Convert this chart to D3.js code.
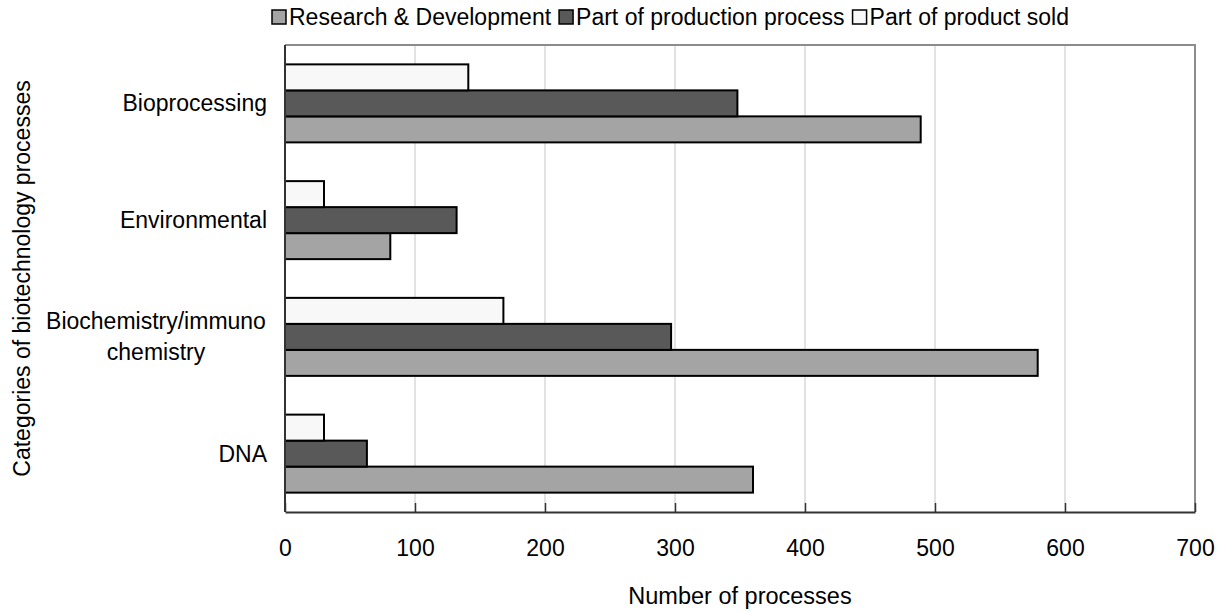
<!DOCTYPE html>
<html>
<head>
<meta charset="utf-8">
<script src="https://cdn.jsdelivr.net/npm/d3@7"></script>
<style>
  html, body { margin: 0; padding: 0; background: #fff; }
  svg { display: block; font-family: "Liberation Sans", Arial, sans-serif; }
</style>
</head>
<body>
<svg id="chart" width="1232" height="611"></svg>
<script>
const categories = ["Bioprocessing", "Environmental", "Biochemistry/immuno\nchemistry", "DNA"];
const seriesNames = ["Research & Development", "Part of production process", "Part of product sold"];
const researchDev = [489, 81, 579, 360];
const production = [348, 132, 297, 63];
const productSold = [141, 30, 168, 30];
const xTicks = [0, 100, 200, 300, 400, 500, 600, 700];
const colors = ["#a4a4a4", "#595959", "#f8f8f8"];
const seriesValues = [researchDev, production, productSold];

const svg = d3.select("#chart");
const plot = { left: 285, right: 1195, top: 45, bottom: 512 };

const x = d3.scaleLinear().domain([0, 700]).range([plot.left, plot.right]);
const y = d3.scaleBand().domain(categories).range([plot.top, plot.bottom]).padding(0);
// order of bars within a group, top to bottom: sold, production, R&D
const inner = d3.scaleBand().domain([2, 1, 0]).range([0, y.bandwidth()]).paddingInner(0).paddingOuter(0.745);

// gridlines
svg.append("g").selectAll("line").data(xTicks.filter(t => t > 0 && t < 700)).join("line")
  .attr("x1", d => x(d)).attr("x2", d => x(d))
  .attr("y1", plot.top).attr("y2", plot.bottom)
  .attr("stroke", "#d9d9d9").attr("stroke-width", 1.5);

// plot frame (top & right gray)
svg.append("path")
  .attr("d", `M${plot.left},${plot.top}H${plot.right}V${plot.bottom}`)
  .attr("fill", "none").attr("stroke", "#8c8c8c").attr("stroke-width", 2);

// bars
const rows = [];
categories.forEach((c, i) => {
  seriesValues.forEach((vals, s) => rows.push({ cat: c, s, v: vals[i] }));
});
svg.append("g").selectAll("rect").data(rows).join("rect")
  .attr("x", x(0))
  .attr("y", d => y(d.cat) + inner(d.s))
  .attr("width", d => x(d.v) - x(0))
  .attr("height", inner.bandwidth())
  .attr("fill", d => colors[d.s])
  .attr("stroke", "#000").attr("stroke-width", 2);

// x axis
const xAxis = d3.axisBottom(x).tickValues(xTicks).tickSize(-9).tickPadding(28).tickSizeOuter(0);
const gx = svg.append("g").attr("transform", `translate(0,${plot.bottom})`).call(xAxis);
gx.select(".domain").attr("stroke", "#333").attr("stroke-width", 2);
gx.selectAll(".tick line").attr("stroke", "#333").attr("stroke-width", 1.5);
gx.selectAll(".tick text").attr("font-size", 23).attr("fill", "#000")
  .attr("font-family", "Liberation Sans, Arial, sans-serif");

// y axis line
svg.append("line").attr("x1", plot.left).attr("x2", plot.left)
  .attr("y1", plot.top).attr("y2", plot.bottom)
  .attr("stroke", "#333").attr("stroke-width", 2);

// category labels
categories.forEach(c => {
  const lines = c.split("\n");
  const cy = y(c) + y.bandwidth() / 2;
  const lh = 31;
  const t = svg.append("text").attr("font-size", 23).attr("fill", "#000");
  if (lines.length === 1) {
    t.attr("x", 267).attr("y", cy).attr("text-anchor", "end").attr("dominant-baseline", "central").text(c);
  } else {
    const cx = 156;
    lines.forEach((ln, k) => {
      t.append("tspan").attr("x", cx).attr("text-anchor", "middle")
        .attr("y", cy + (k - (lines.length - 1) / 2) * lh)
        .attr("dominant-baseline", "central").text(ln);
    });
  }
});

// axis titles
svg.append("text").attr("x", (plot.left + plot.right) / 2).attr("y", 596)
  .attr("text-anchor", "middle").attr("dominant-baseline", "central")
  .attr("font-size", 23.5).text("Number of processes");
svg.append("text").attr("transform", `translate(22,${(plot.top + plot.bottom) / 2}) rotate(-90)`)
  .attr("text-anchor", "middle").attr("dominant-baseline", "central")
  .attr("font-size", 23).text("Categories of biotechnology processes");

// legend
const legend = svg.append("g");
let lx = 272;
seriesNames.forEach((name, i) => {
  legend.append("rect").attr("x", lx).attr("y", 10).attr("width", 14).attr("height", 14)
    .attr("fill", colors[i]).attr("stroke", "#000").attr("stroke-width", 1.5);
  const t = legend.append("text").attr("x", lx + 17).attr("y", 17)
    .attr("dominant-baseline", "central").attr("font-size", 23).text(name);
  lx += 17 + t.node().getComputedTextLength() + 8;
});
</script>
</body>
</html>
